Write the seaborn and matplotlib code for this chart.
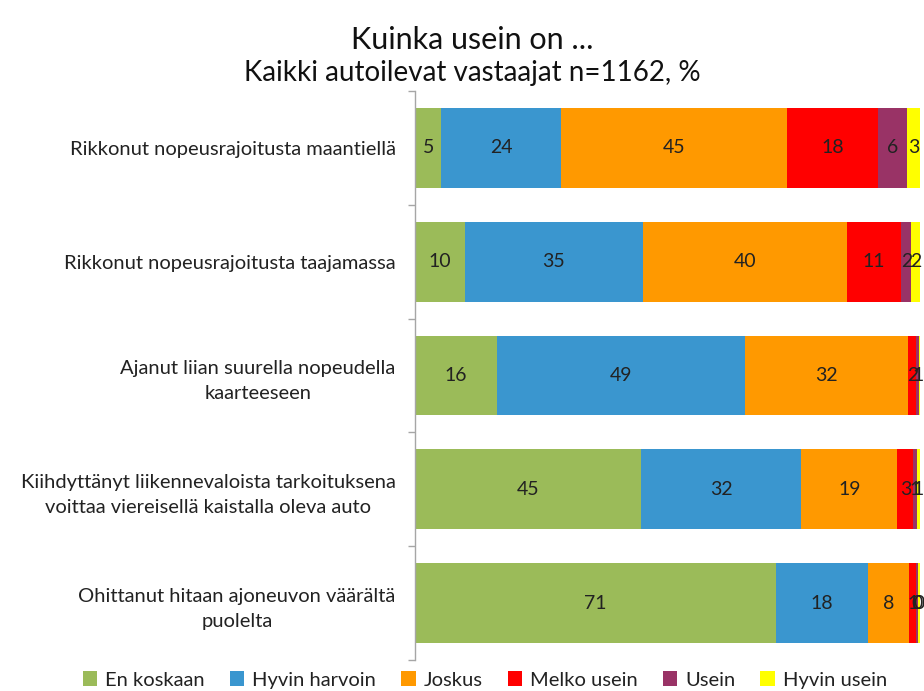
import numpy as np
import pandas as pd
import matplotlib
matplotlib.use("Agg")
import matplotlib.pyplot as plt
from matplotlib.patches import Patch
import seaborn as sns

categories = [
    "Rikkonut nopeusrajoitusta maantiellä",
    "Rikkonut nopeusrajoitusta taajamassa",
    "Ajanut liian suurella nopeudella\nkaarteeseen",
    "Kiihdyttänyt liikennevaloista tarkoituksena\nvoittaa viereisellä kaistalla oleva auto",
    "Ohittanut hitaan ajoneuvon väärältä\npuolelta",
]
series = ["En koskaan", "Hyvin harvoin", "Joskus", "Melko usein", "Usein", "Hyvin usein"]
en_koskaan    = [5.2, 9.9, 16.3, 44.8, 71.4]
hyvin_harvoin = [23.7, 35.2, 49.0, 31.7, 18.3]
joskus        = [44.8, 40.4, 32.4, 19.0, 8.2]
melko_usein   = [17.9, 10.8, 1.6, 3.2, 1.4]
usein         = [5.8, 2.0, 0.6, 0.7, 0.4]
hyvin_usein   = [2.6, 1.7, 0.1, 0.6, 0.3]
colors = ["#9BBB59", "#3A96CF", "#FF9900", "#FF0000", "#993366", "#FFFF00"]

title = "Kuinka usein on ..."
subtitle = "Kaikki autoilevat vastaajat n=1162, %"

values = np.array([en_koskaan, hyvin_harvoin, joskus, melko_usein, usein, hyvin_usein])
cum = np.cumsum(values, axis=0)

sns.set_theme(style="white")
plt.rcParams["font.family"] = ["Lato", "DejaVu Sans"]

fig = plt.figure(figsize=(9.24, 6.91), dpi=100)
ax = fig.add_axes([415 / 924, 1 - 660 / 691, (920 - 415) / 924, (660 - 91) / 691])

for i in range(len(series) - 1, -1, -1):
    df = pd.DataFrame({"cat": categories, "val": cum[i]})
    sns.barplot(data=df, x="val", y="cat", orient="h", color=colors[i],
                saturation=1, width=0.70, ax=ax, linewidth=0, edgecolor="none")

for i in range(len(series)):
    for j in range(len(categories)):
        v = values[i, j]
        if v < 0.25:
            continue
        ax.text(cum[i, j] - v / 2, j, f"{int(round(v))}", ha="center", va="center",
                fontsize=14, color="#222222")

ax.set_xlim(0, 100)
ax.set_ylim(len(categories) - 0.5, -0.5)
ax.set_xlabel("")
ax.set_ylabel("")
ax.set_xticks([])
for s in ["top", "right", "bottom"]:
    ax.spines[s].set_visible(False)
ax.spines["left"].set_color("#A6A6A6")
ax.spines["left"].set_linewidth(1.0)
ax.set_yticks(np.arange(len(categories)))
ax.set_yticklabels(categories, fontsize=14.5, color="#222222", multialignment="center",
                   linespacing=1.6)
ax.tick_params(axis="y", which="major", length=0, pad=14)
ax.set_yticks(np.arange(len(categories) + 1) - 0.5, minor=True)
ax.tick_params(axis="y", which="minor", length=5, color="#A6A6A6", width=1.0, left=True)

fig.text(0.511, 1 - 40 / 691, title, ha="center", va="center", fontsize=22, color="#111111")
fig.text(0.511, 1 - 73 / 691, subtitle, ha="center", va="center", fontsize=20, color="#111111")

handles = [Patch(facecolor=c, edgecolor="none") for c in colors]
fig.legend(handles, series, loc="center", bbox_to_anchor=(0.525, 1 - 680 / 691), ncol=6,
           frameon=False, fontsize=14.5, handlelength=0.7, handleheight=0.7,
           handletextpad=0.4, columnspacing=1.25, labelcolor="#222222")

fig.savefig("out.png", dpi=100)
